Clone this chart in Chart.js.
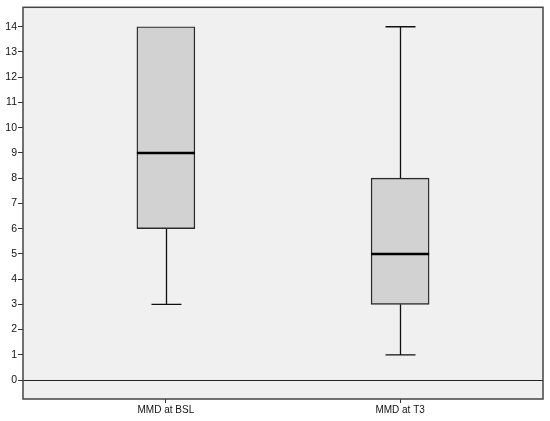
<!DOCTYPE html>
<html>
<head>
<meta charset="utf-8">
<script src="https://cdn.jsdelivr.net/npm/chart.js@4/dist/chart.umd.min.js"></script>
<style>
  html, body { margin: 0; padding: 0; background: #fff; }
  #wrap { width: 550px; height: 421px; }
</style>
</head>
<body>
<div id="wrap"><canvas id="chart"></canvas></div>
<script>
// Boxplot — MMD at baseline vs T3

const categories = ['MMD at BSL', 'MMD at T3'];
const positions = [1, 2];
const mins = [3, 1];
const q1s = [6, 3];
const medians = [9, 5];
const q3s = [14, 8];
const maxs = [14, 14];
const yTicks = [0, 1, 2, 3, 4, 5, 6, 7, 8, 9, 10, 11, 12, 13, 14];

const BOX_WIDTH = 58;
const CAP_WIDTH = 30;

// plot background, frame, zero line
const frame = {
  id: 'frame',
  beforeDraw(chart) {
    const { ctx, chartArea: a } = chart;
    ctx.save();
    ctx.fillStyle = '#f0f0f0';
    ctx.fillRect(a.left, a.top, a.right - a.left, a.bottom - a.top);
    ctx.restore();
  },
  beforeDatasetsDraw(chart) {
    const { ctx, chartArea: a, scales } = chart;
    const y0 = Math.round(scales.y.getPixelForValue(0)) + 0.5;
    ctx.save();
    ctx.strokeStyle = '#222';
    ctx.lineWidth = 1.2;
    ctx.beginPath();
    ctx.moveTo(a.left, y0);
    ctx.lineTo(a.right, y0);
    ctx.stroke();
    // whiskers
    ctx.strokeStyle = '#111';
    ctx.lineWidth = 1.3;
    positions.forEach((p, i) => {
      const x = Math.round(scales.x.getPixelForValue(p)) + 0.5;
      const yMin = scales.y.getPixelForValue(mins[i]);
      const yQ1 = scales.y.getPixelForValue(q1s[i]);
      const yQ3 = scales.y.getPixelForValue(q3s[i]);
      const yMax = scales.y.getPixelForValue(maxs[i]);
      ctx.beginPath();
      if (mins[i] < q1s[i]) {
        ctx.moveTo(x, yQ1); ctx.lineTo(x, yMin);
        ctx.moveTo(x - CAP_WIDTH / 2, yMin); ctx.lineTo(x + CAP_WIDTH / 2, yMin);
      }
      if (maxs[i] > q3s[i]) {
        ctx.moveTo(x, yQ3); ctx.lineTo(x, yMax);
        ctx.moveTo(x - CAP_WIDTH / 2, yMax); ctx.lineTo(x + CAP_WIDTH / 2, yMax);
      }
      ctx.stroke();
    });
    ctx.restore();
  },
  afterDatasetsDraw(chart) {
    const { ctx, chartArea: a, scales } = chart;
    ctx.save();
    // medians
    ctx.strokeStyle = '#000';
    ctx.lineWidth = 2.5;
    positions.forEach((p, i) => {
      const x = scales.x.getPixelForValue(p);
      const y = scales.y.getPixelForValue(medians[i]);
      ctx.beginPath();
      ctx.moveTo(x - BOX_WIDTH / 2, y);
      ctx.lineTo(x + BOX_WIDTH / 2, y);
      ctx.stroke();
    });
    // frame
    ctx.strokeStyle = '#444';
    ctx.lineWidth = 1.5;
    ctx.strokeRect(a.left, a.top, a.right - a.left, a.bottom - a.top);
    ctx.restore();
  },
};

new Chart(document.getElementById('chart'), {
  type: 'bar',
  data: {
    datasets: [{
      data: positions.map((p, i) => ({ x: p, y: [q1s[i], q3s[i]] })),
      backgroundColor: '#d2d2d2',
      borderColor: '#2a2a2a',
      borderWidth: 1.4,
      borderSkipped: false,
      barThickness: BOX_WIDTH,
    }],
  },
  options: {
    responsive: true,
    maintainAspectRatio: false,
    animation: false,
    layout: { padding: { left: 0, right: 7, top: 3.5, bottom: 0 } },
    plugins: { legend: { display: false }, tooltip: { enabled: false } },
    scales: {
      x: {
        type: 'linear',
        min: 0.39,
        max: 2.61,
        offset: false,
        afterBuildTicks: s => { s.ticks = positions.map(v => ({ value: v })); },
        afterFit: s => { s.height = 22; },
        ticks: {
          callback: v => categories[positions.indexOf(v)] ?? '',
          color: '#111',
          font: { family: 'Liberation Sans', size: 10 },
          padding: 1,
          maxRotation: 0,
        },
        grid: { offset: false, drawOnChartArea: false, tickLength: 4, color: '#333' },
        border: { display: false },
      },
      y: {
        min: -0.75,
        max: 14.77,
        afterBuildTicks: s => { s.ticks = yTicks.map(v => ({ value: v })); },
        afterFit: s => { s.width = 23; },
        ticks: {
          color: '#111',
          font: { family: 'Liberation Sans', size: 10.5 },
          padding: 1,
        },
        grid: { drawOnChartArea: false, tickLength: 5, color: '#333' },
        border: { display: false },
      },
    },
  },
  plugins: [frame],
});
</script>
</body>
</html>
